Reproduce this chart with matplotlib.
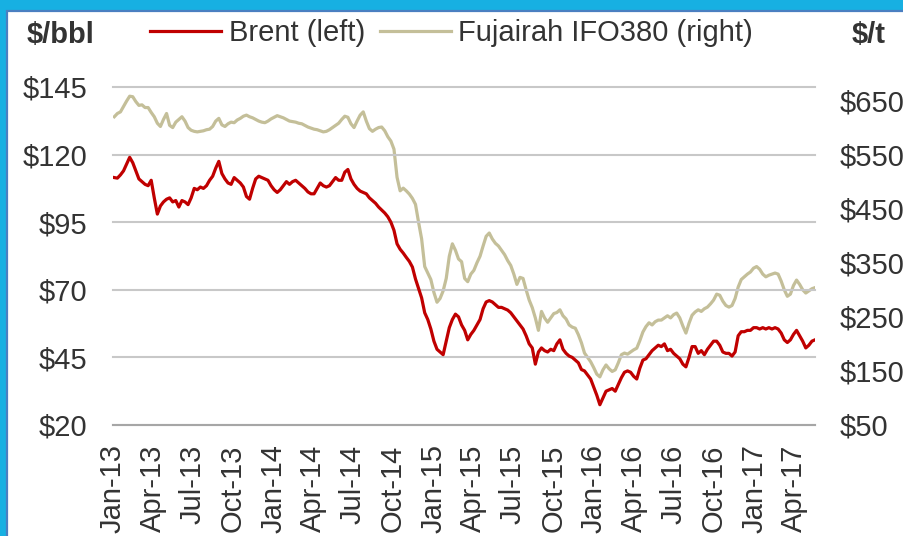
import pandas as pd
import matplotlib
matplotlib.use('Agg')
import matplotlib.pyplot as plt
import matplotlib.dates as mdates
from matplotlib.patches import Rectangle

# weekly readings, $/bbl
brent_2013 = [111.5, 111.3, 112.5, 114, 116.5, 119, 117, 114, 111, 110,
              109, 108.5, 110.5, 104, 98, 101, 102.5, 103.5, 104, 102.5,
              103, 100.6, 103, 102.5, 101.5, 104, 107.5, 107, 108, 107.5,
              108.5, 110.5, 112, 115, 117.5, 113, 111, 109.5, 109, 111.5,
              110.5, 109.5, 108, 104.5, 103.5, 107.5, 111, 112, 111.5, 111,
              110.5, 108.5]
brent_2014 = [107, 106, 107, 108.5, 110, 109, 110, 110.5, 109.5, 108.5,
              107.5, 106.2, 105.5, 105.5, 107.5, 109.5, 108.5, 108, 108.5, 110,
              111.5, 110.5, 110.5, 113.5, 114.5, 111, 109, 107.5, 106.5, 106,
              105.5, 104, 103, 102, 100.6, 99.5, 98.4, 97, 95, 92,
              87, 85, 83.6, 82, 80.5, 78.4, 74, 70.5, 67, 61.5,
              59, 55.5]
brent_2015 = [51, 48, 47, 46, 51, 56, 59, 61, 60, 57,
              55, 51.5, 53.5, 55, 57, 59, 63, 65.5, 66, 65.5,
              64.5, 63.5, 63.5, 63, 62.5, 61.5, 60, 58.5, 57, 55.5,
              53, 50, 48.5, 42.5, 47, 48.5, 47.5, 47, 48, 47.5,
              50, 51.5, 48, 46.5, 45.5, 45, 44, 43, 40.5, 40,
              38.5, 37]
brent_2016 = [34, 31, 27.5, 30, 32.5, 33, 33.5, 32.5, 35, 37.5,
              39.5, 40, 39.5, 38, 37, 41, 44, 44.5, 46, 47.5,
              48.5, 49.5, 49, 50, 47.5, 48, 46.5, 45.5, 44.5, 42.5,
              41.5, 45, 49, 49, 46.5, 47.5, 46, 48, 49.5, 51,
              51, 49.5, 47, 46.5, 46.5, 45.5, 47, 53, 54.5, 54.5,
              55, 55, 56]
brent_2017 = [56, 55.5, 56, 55.5, 56, 55.5, 56, 55.5, 54, 51.5,
              50.5, 51.5, 53.5, 55, 53, 51, 48.5, 49.5, 51, 51.5]

# weekly readings, $/t
ifo_2013 = [620, 626, 629, 639, 649, 658, 657, 648, 641, 642,
            637, 637, 628, 620, 608, 602, 615, 626, 604, 600,
            610, 615, 620, 612, 600, 595, 593, 592, 593, 594,
            596, 597, 602, 612, 617, 605, 602, 607, 610, 609,
            614, 617, 621, 623, 620, 618, 615, 612, 610, 609,
            612, 616]
ifo_2014 = [619, 622, 620, 618, 615, 612, 611, 610, 608, 607,
            604, 601, 599, 597, 596, 594, 592, 593, 596, 600,
            604, 608, 615, 621, 619, 607, 600, 612, 623, 629,
            612, 598, 593, 597, 600, 601, 594, 583, 575, 560,
            508, 483, 488, 483, 477, 469, 458, 425, 394, 343,
            331, 319]
ifo_2015 = [295, 277, 284, 298, 321, 362, 385, 373, 357, 352,
            321, 315, 329, 336, 350, 362, 381, 399, 405, 394,
            386, 381, 373, 365, 354, 345, 329, 310, 323, 321,
            300, 281, 267, 248, 225, 260, 248, 240, 248, 256,
            258, 263, 252, 246, 235, 231, 229, 217, 202, 183,
            175, 167]
ifo_2016 = [156, 144, 139, 152, 161, 154, 149, 152, 165, 180,
            183, 181, 185, 189, 192, 206, 222, 232, 239, 235,
            241, 244, 244, 248, 252, 248, 254, 257, 248, 233,
            220, 238, 253, 259, 263, 260, 265, 268, 274, 281,
            292, 290, 279, 271, 268, 271, 284, 305, 319, 324,
            329, 333, 340]
ifo_2017 = [343, 338, 329, 324, 327, 329, 331, 329, 316, 300,
            288, 292, 308, 318, 310, 300, 294, 298, 302, 304]

brent = brent_2013 + brent_2014 + brent_2015 + brent_2016 + brent_2017
ifo = ifo_2013 + ifo_2014 + ifo_2015 + ifo_2016 + ifo_2017
dates = pd.date_range('2013-01-04', periods=len(brent), freq='7D')

left_ticks = [20, 45, 70, 95, 120, 145]
right_ticks = [50, 150, 250, 350, 450, 550, 650]
x_ticks = pd.date_range('2013-01-01', '2017-04-01', freq='QS')

plt.rcParams['font.family'] = ['Liberation Sans', 'DejaVu Sans']
txt = '#333333'
fs = 21

fig = plt.figure(figsize=(9.04, 5.36), dpi=100, facecolor='#17b0e2')
fig.patches.append(Rectangle((7 / 904, -0.02), 1.0, 1.02 - 11 / 536,
                             transform=fig.transFigure, facecolor='white',
                             edgecolor='#4a7fc1', linewidth=1.6, zorder=-5))

ax = fig.add_axes([113 / 904, 1 - 425 / 536, 702 / 904, 338 / 536])
ax2 = ax.twinx()
ax.set_zorder(ax2.get_zorder() + 1)
ax.patch.set_visible(False)
ax2.patch.set_visible(False)

l2, = ax2.plot(dates, ifo, color='#c4bf99', lw=2.3, label='Fujairah IFO380 (right)')
l1, = ax.plot(dates, brent, color='#c00000', lw=2.3, label='Brent (left)')

ax.set_xlim(pd.Timestamp('2013-01-01'), dates[-1])
ax.set_ylim(20, 145)
ax.set_yticks(left_ticks)
ax.set_yticklabels([f'${v}' for v in left_ticks])
ax2.set_ylim(50, 675)
ax2.set_yticks(right_ticks)
ax2.set_yticklabels([f'${v}' for v in right_ticks])

ax.set_xticks(x_ticks)
ax.xaxis.set_major_formatter(mdates.DateFormatter('%b-%y'))
plt.setp(ax.get_xticklabels(), rotation=90)

ax.grid(axis='y', color='#c8c8c8', lw=1.5)
for g in ax.yaxis.get_gridlines():
    g.set_clip_on(False)

for a in (ax, ax2):
    for s in a.spines.values():
        s.set_visible(False)
ax.spines['bottom'].set_visible(True)
ax.spines['bottom'].set_color('#a6a6a6')
ax.spines['bottom'].set_linewidth(1.5)

ax.tick_params(axis='y', length=0, pad=18.5, labelsize=fs, labelcolor=txt)
ax.tick_params(axis='x', length=0, pad=14, labelsize=fs, labelcolor=txt)
ax2.tick_params(axis='y', length=0, pad=18, labelsize=fs, labelcolor=txt)

fig.legend(handles=[l1, l2], loc='center left', bbox_to_anchor=(150 / 904, 1 - 33 / 536),
           ncol=2, frameon=False, fontsize=fs, labelcolor=txt, handlelength=2.45,
           handletextpad=0.25, columnspacing=0.5, borderpad=0, borderaxespad=0)
fig.text(27 / 904, 1 - 35 / 536, '$/bbl', ha='left', va='center', fontsize=fs,
         fontweight='bold', color=txt)
fig.text(852 / 904, 1 - 35 / 536, '$/t', ha='left', va='center', fontsize=fs,
         fontweight='bold', color=txt)

fig.savefig('out.png', dpi=100, facecolor=fig.get_facecolor())
